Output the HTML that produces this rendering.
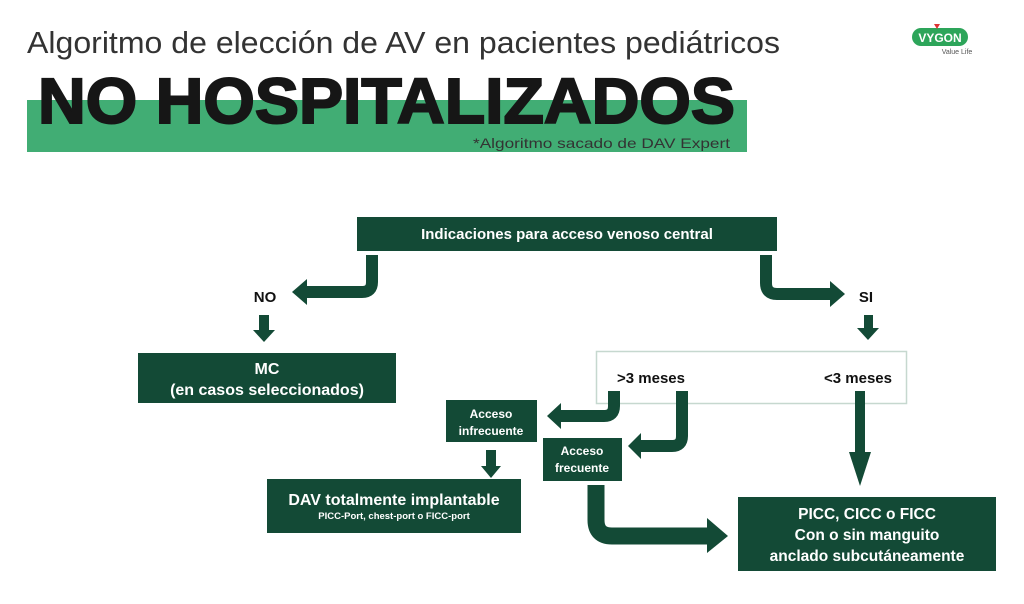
<!DOCTYPE html>
<html><head><meta charset="utf-8"><style>
html,body{margin:0;padding:0;background:#fff;width:1024px;height:604px;overflow:hidden}
svg{display:block}
text{font-family:"Liberation Sans",sans-serif}
</style></head><body>
<svg width="1024" height="604" viewBox="0 0 1024 604">
<text x="27" y="53" font-size="31" fill="#333" textLength="753" lengthAdjust="spacingAndGlyphs">Algoritmo de elección de AV en pacientes pediátricos</text>
<rect x="27" y="100" width="720" height="52" fill="#41ad74"/>
<text x="38" y="123" font-size="64" font-weight="bold" fill="#161616" textLength="697" lengthAdjust="spacingAndGlyphs" stroke="#161616" stroke-width="2">NO HOSPITALIZADOS</text>
<text x="473" y="148" font-size="14" fill="#333" textLength="257" lengthAdjust="spacingAndGlyphs">*Algoritmo sacado de DAV Expert</text>
<rect x="912" y="28" width="56" height="18" rx="9" fill="#2da55a"/>
<text x="940" y="42" font-size="12" font-weight="bold" fill="#fff" text-anchor="middle">VYGON</text>
<polygon points="934,24 940,24 937,29" fill="#d33"/>
<text x="957" y="54" font-size="7" fill="#555" text-anchor="middle">Value Life</text>

<g fill="#134a36">
<rect x="357" y="217" width="420" height="34"/>
<rect x="138" y="353" width="258" height="50"/>
<rect x="446" y="400" width="91" height="42"/>
<rect x="267" y="479" width="254" height="54"/>
<rect x="543" y="438" width="79" height="43"/>
<rect x="738" y="497" width="258" height="74"/>
</g>
<rect x="596.5" y="351.5" width="310" height="52" fill="#fff" stroke="#c6d8cf" stroke-width="1.5"/>

<g fill="none" stroke="#134a36" stroke-width="12">
<path d="M372 255 V282 Q372 292 362 292 H306"/>
<path d="M766 255 V283 Q766 294 777 294 H831"/>
<path d="M614 391 V406 Q614 416 604 416 H560"/>
<path d="M682 391 V436 Q682 446 672 446 H640"/>
<path d="M596 485 V520 Q596 536 612 536 H709" stroke-width="17"/>
</g>
<g fill="#134a36">
<polygon points="307,279 292,292 307,305"/>
<polygon points="830,281 845,294 830,307"/>
<rect x="259" y="315" width="10" height="15"/><polygon points="253,330 275,330 264,342"/>
<rect x="864" y="315" width="9" height="13"/><polygon points="857,328 879,328 868,340"/>
<polygon points="561,403 547,416 561,429"/>
<polygon points="641,433 628,446 641,459"/>
<rect x="855" y="391" width="10" height="62"/><polygon points="849,452 871,452 860,486"/>
<rect x="486" y="450" width="10" height="16"/><polygon points="481,466 501,466 491,478"/>
<polygon points="707,518 728,536 707,553"/>
</g>

<g font-weight="bold" text-anchor="middle">
<text x="567" y="239" font-size="15" fill="#fff">Indicaciones para acceso venoso central</text>
<text x="265" y="302" font-size="15" fill="#111">NO</text>
<text x="866" y="302" font-size="15" fill="#111">SI</text>
<text x="267" y="374" font-size="16" fill="#fff">MC</text>
<text x="267" y="395" font-size="16" fill="#fff">(en casos seleccionados)</text>
<text x="651" y="383" font-size="15" fill="#111">&gt;3 meses</text>
<text x="858" y="383" font-size="15" fill="#111">&lt;3 meses</text>
<text x="491" y="418" font-size="12" fill="#fff">Acceso</text>
<text x="491" y="435" font-size="12" fill="#fff">infrecuente</text>
<text x="582" y="455" font-size="12" fill="#fff">Acceso</text>
<text x="582" y="472" font-size="12" fill="#fff">frecuente</text>
<text x="394" y="505" font-size="16" fill="#fff">DAV totalmente implantable</text>
<text x="394" y="519" font-size="9.5" fill="#fff">PICC-Port, chest-port o FICC-port</text>
<text x="867" y="519" font-size="15.5" fill="#fff">PICC, CICC o FICC</text>
<text x="867" y="540" font-size="15.5" fill="#fff">Con o sin manguito</text>
<text x="867" y="561" font-size="15.5" fill="#fff">anclado subcutáneamente</text>
</g>
</svg>
</body></html>
